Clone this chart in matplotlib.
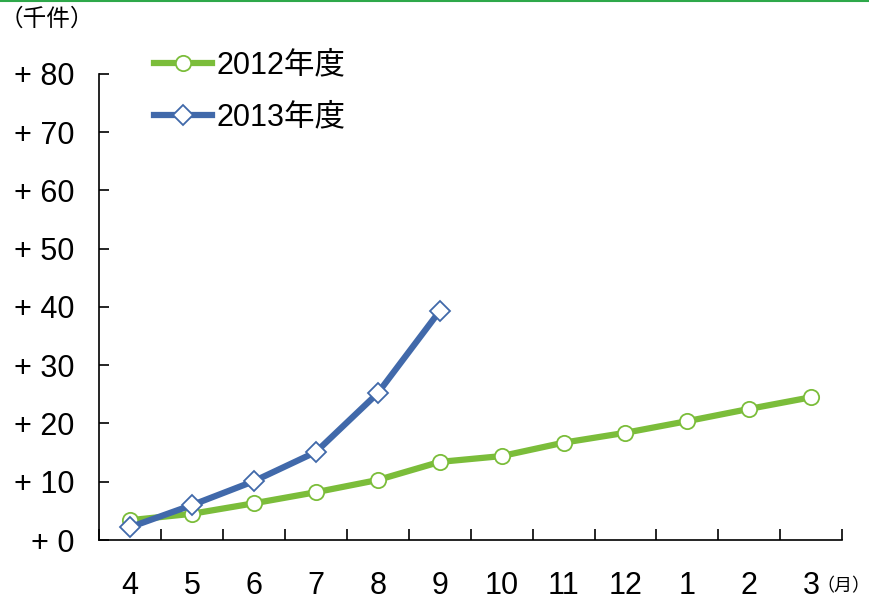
import matplotlib.pyplot as plt
from matplotlib.lines import Line2D

plt.rcParams['font.family'] = ['Liberation Sans', 'Noto Sans CJK JP', 'DejaVu Sans']

months = ['4', '5', '6', '7', '8', '9', '10', '11', '12', '1', '2', '3']
fy2012 = [3.4, 4.5, 6.3, 8.2, 10.3, 13.4, 14.4, 16.7, 18.4, 20.4, 22.5, 24.5]
fy2013 = [2.2, 6.0, 10.1, 15.1, 25.2, 39.3]
yticks = [0, 10, 20, 30, 40, 50, 60, 70, 80]

green = '#7bbd3a'
blue = '#4169aa'

fig = plt.figure(figsize=(8.7, 6), dpi=100)
ax = fig.add_axes([0.114, 0.1, 0.854, 0.777])

x12 = list(range(len(fy2012)))
x13 = list(range(len(fy2013)))
ax.plot(x12, fy2012, color=green, lw=4.5, marker='o', ms=11,
        mfc='white', mec=green, mew=1.3, label='2012年度', zorder=2)
ax.plot(x13, fy2013, color=blue, lw=4.5, marker='D', ms=10,
        mfc='white', mec=blue, mew=1.3, label='2013年度', zorder=3)

ax.set_xlim(-0.5, len(months) - 0.5)
ax.set_ylim(0, 80)

# month labels at the centres, tick marks on the category boundaries
ax.set_xticks(range(len(months)))
ax.set_xticklabels(months, fontsize=22)
ax.tick_params(axis='x', which='major', length=0, pad=22)
ax.set_xticks([i - 0.5 for i in range(len(months) + 1)], minor=True)
ax.tick_params(axis='x', which='minor', direction='in', length=8, width=1.2)

ax.set_yticks(yticks)
ax.set_yticklabels(['+ %d' % v for v in yticks], fontsize=22)
ax.tick_params(axis='y', direction='in', length=7, width=1.2, pad=18)

for side in ['top', 'right']:
    ax.spines[side].set_visible(False)
for side in ['left', 'bottom']:
    ax.spines[side].set_linewidth(1.2)

ax.legend(loc='upper left', bbox_to_anchor=(0.037, 1.109), frameon=False,
          fontsize=22, handlelength=1.9, handletextpad=0.15, labelspacing=0.72)

fig.text(0.0, 0.968, '（千件）', fontsize=17, va='center', ha='left')
fig.text(0.939, 0.022, '（月）', fontsize=13, va='center', ha='left')

# thin rule along the top edge
fig.add_artist(Line2D([0, 1], [0.998, 0.998], transform=fig.transFigure,
                      color='#2ea84a', lw=1.5))

fig.savefig('out.png', dpi=100)
